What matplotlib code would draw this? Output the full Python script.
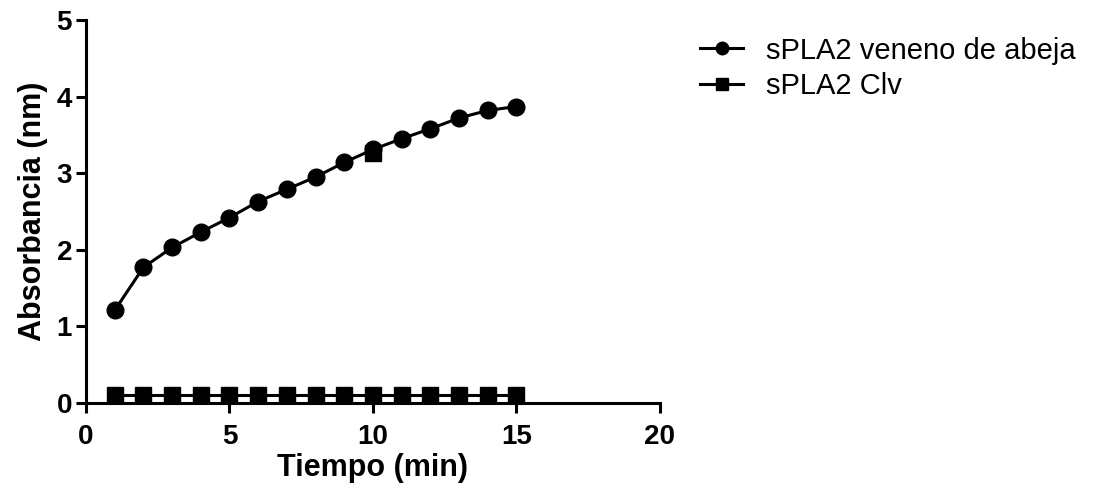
import numpy as np
import matplotlib
matplotlib.use('Agg')
import matplotlib.pyplot as plt

tiempo = np.arange(1, 16)
veneno = [1.21, 1.77, 2.03, 2.23, 2.42, 2.63, 2.79, 2.95, 3.14, 3.31, 3.45, 3.58, 3.72, 3.82, 3.87]
clv = [0.11] * 15
# stray square point hidden behind the circle at t = 10
clv_extra_x = [10]
clv_extra_y = [3.27]

xticks = [0, 5, 10, 15, 20]
yticks = [0, 1, 2, 3, 4, 5]

plt.rcParams['font.family'] = ['Liberation Sans', 'DejaVu Sans']

fig = plt.figure(figsize=(10.98, 4.93), dpi=100)
ax = fig.add_axes([0.0783, 0.1826, 0.5227, 0.7768])

ax.plot(clv_extra_x, clv_extra_y, 's', color='black', markersize=11, zorder=2)
ax.plot(tiempo, veneno, '-o', color='black', lw=2.2, markersize=12,
        label='sPLA2 veneno de abeja', zorder=3)
ax.plot(tiempo, clv, '-s', color='black', lw=2.2, markersize=11,
        label='sPLA2 Clv', zorder=3)

ax.set_xlim(0, 20)
ax.set_ylim(0, 5)
ax.set_xticks(xticks)
ax.set_yticks(yticks)
for s in ['top', 'right']:
    ax.spines[s].set_visible(False)
for s in ['left', 'bottom']:
    ax.spines[s].set_linewidth(2.2)
ax.tick_params(width=2.2, length=7, labelsize=20)
ax.tick_params(axis='x', pad=8)
ax.tick_params(axis='y', pad=3)
for lab in ax.get_xticklabels() + ax.get_yticklabels():
    lab.set_fontweight('bold')

ax.set_xlabel('Tiempo (min)', fontsize=22, fontweight='bold', labelpad=2)
ax.set_ylabel('Absorbancia (nm)', fontsize=22, fontweight='bold', labelpad=6)
for ln in ax.get_lines():
    ln.set_clip_on(False)

leg = ax.legend(loc='upper left', bbox_to_anchor=(1.025, 1.025), frameon=False,
                fontsize=21, handlelength=1.45, handletextpad=0.8, labelspacing=0.25,
                markerscale=0.75)

plt.savefig('out.png', dpi=100)
